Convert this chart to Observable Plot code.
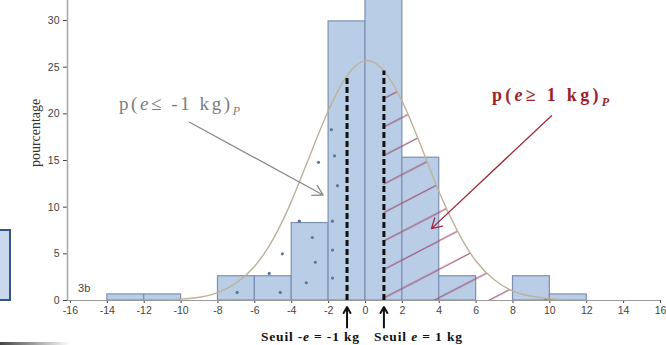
<!DOCTYPE html>
<html><head><meta charset="utf-8">
<script src="https://cdn.jsdelivr.net/npm/d3@7"></script>
<script src="https://cdn.jsdelivr.net/npm/@observablehq/plot@0.6"></script>
<style>
html,body{margin:0;padding:0;background:#fff;}
#wrap{position:relative;width:666px;height:345px;overflow:hidden;background:#fff;}
#wrap svg{position:absolute;left:0;top:0;}
#box{position:absolute;left:-4px;top:229px;width:11px;height:68px;border:2px solid #34558a;background:#c9d8ec;}
#shadow{position:absolute;left:0;top:342px;width:70px;height:3px;background:linear-gradient(to right,#444,rgba(140,140,140,0));}
</style></head><body>
<div id="wrap"><div id="box"></div><div id="shadow"></div></div>
<script>
// Histogram bins (width 2 kg), percentage per bin
const binStart = [-14, -12, -8, -6, -4, -2, 0, 2, 4, 8, 10];
const binPercent = [0.65, 0.65, 2.6, 2.6, 8.3, 29.9, 34, 15.3, 2.6, 2.6, 0.65];
const binWidth = 2;

// Fitted normal curve
const curveX = [-12,-11,-10,-9,-8,-7,-6,-5,-4,-3,-2,-1,0,1,2,3,4,5,6,7,8,9,10,11,12];
const curveY = [0.02,0.05,0.15,0.35,0.85,1.9,3.7,6.6,10.7,15.6,20.4,24.1,25.7,24.6,21.3,16.6,11.6,7.4,4.2,2.2,1.0,0.45,0.2,0.08,0.03];

// Thresholds
const thresholds = [-1, 1];

// Stipple dots in the left tail
const dotX = [-6.96,-4.62,-5.22,-4.51,-3.21,-2.72,-2.88,-3.59,-1.79,-1.79,-1.79,-1.52,-2.55,-1.85,-1.68];
const dotY = [0.86,0.86,2.9,5.0,1.9,4.1,6.75,8.5,2.4,5.4,8.5,12.3,14.8,18.3,15.5];

// Axis ticks
const xTicks = [-16,-14,-12,-10,-8,-6,-4,-2,0,2,4,6,8,10,12,14,16];
const yTicks = [0,5,10,15,20,25,30];

// Annotation arrows (data units)
const arrowX1 = [-9.54, 10.09];
const arrowY1 = [19.1, 19.8];
const arrowX2 = [-2.3, 3.58];
const arrowY2 = [11.3, 7.7];
const arrowColor = ["#8a8a8a", "#a3283a"];

const bars = binStart.map((x, i) => ({x1: x, x2: x + binWidth, y: binPercent[i]}));
const curve = curveX.map((x, i) => ({x, y: curveY[i]}));
const rightTail = curve.filter(d => d.x >= thresholds[1]);
const thresholdLines = thresholds.map(t => ({x: t, top: curve.find(d => d.x === t).y}));
const stipple = dotX.map((x, i) => ({x, y: dotY[i]}));
const notes = arrowX1.map((x1, i) => ({x1, y1: arrowY1[i], x2: arrowX2[i], y2: arrowY2[i], c: arrowColor[i]}));

const xMin = -16.16;

const chart = Plot.plot({
  width: 666, height: 345,
  marginLeft: 67, marginRight: 6, marginTop: 0, marginBottom: 45,
  style: {fontFamily: "'Liberation Sans', Arial, sans-serif", fontSize: "10.5px", color: "#444", background: "transparent", overflow: "visible"},
  x: {domain: [xMin, 16], ticks: xTicks, tickFormat: d => String(d), tickSize: 3, tickPadding: 3, label: null},
  y: {domain: [0, 32.14], ticks: yTicks, tickFormat: d => String(d), tickSize: 4, tickPadding: 4, label: null},
  marks: [
    Plot.rect(bars, {x1: "x1", x2: "x2", y1: 0, y2: "y", fill: "#b9cde6", stroke: "#7c90b3", strokeWidth: 1.2, clip: true}),
    Plot.areaY(rightTail, {x: "x", y: "y", curve: "natural", fill: "url(#hatch)"}),
    Plot.dot(stipple, {x: "x", y: "y", r: 1.6, fill: "#60779c"}),
    Plot.line(curve, {x: "x", y: "y", curve: "natural", stroke: "#bdb299", strokeWidth: 1.4}),
    Plot.ruleX(thresholdLines, {x: "x", y1: 0, y2: "top", stroke: "#111", strokeWidth: 3, strokeDasharray: "6,3"}),
    Plot.ruleY([0], {stroke: "#9a9a9a", strokeWidth: 1.2}),
    Plot.ruleX([xMin], {stroke: "#aaaaaa", strokeWidth: 1.6}),
    Plot.arrow(thresholds, {x1: d => d, x2: d => d, y1: -2.9, y2: -0.7, stroke: "#111", strokeWidth: 2, headLength: 8}),
    Plot.arrow(notes, {x1: "x1", y1: "y1", x2: "x2", y2: "y2", stroke: "c", strokeWidth: 1.3, headLength: 13})
  ]
});

const svg = d3.select(chart);
const defs = svg.insert("defs", ":first-child");
const W = 54.8, H = 28.5;
const pat = defs.append("pattern").attr("id", "hatch").attr("patternUnits", "userSpaceOnUse")
  .attr("x", 0).attr("y", 13.2).attr("width", W).attr("height", H);
[-H, 0, H].forEach(o => {
  pat.append("line").attr("x1", -0.1 * W).attr("y1", H + o + 0.1 * H).attr("x2", 1.1 * W).attr("y2", o - 0.1 * H)
    .attr("stroke", "#9c4f72").attr("stroke-width", 1.1).attr("stroke-opacity", 0.95);
});

const xs = chart.scale("x"), ys = chart.scale("y");
function rich(x, y, parts, attrs) {
  const t = svg.append("text").attr("x", xs.apply(x)).attr("y", ys.apply(y)).attr("text-anchor", "start");
  Object.entries(attrs).forEach(([k, v]) => t.attr(k, v));
  parts.forEach(p => {
    const s = t.append("tspan").text(p.t);
    if (p.i) s.attr("font-style", "italic");
    if (p.sub) s.attr("font-size", p.sub).attr("dy", p.dy);
  });
  return t;
}
const serif = "'Liberation Serif', 'Times New Roman', serif";
rich(-13.34, 20.4, [{t: "p("}, {t: "e", i: 1}, {t: "≤ -1 kg)"}, {t: "P", i: 1, sub: "12px", dy: 5}],
  {"font-family": serif, "font-size": 19, fill: "#7d7d7d", textLength: 121});
rich(6.89, 21.3, [{t: "p("}, {t: "e", i: 1}, {t: "≥ 1 kg)"}, {t: "P", i: 1, sub: "12px", dy: 5}],
  {"font-family": serif, "font-size": 18, "font-weight": "bold", fill: "#9e1e2a", textLength: 117});
rich(-5.64, -4.4, [{t: "Seuil -"}, {t: "e", i: 1}, {t: " = -1 kg"}],
  {"font-family": serif, "font-size": 13.5, "font-weight": "bold", fill: "#111", textLength: 98});
rich(0.49, -4.4, [{t: "Seuil "}, {t: "e", i: 1}, {t: " = 1 kg"}],
  {"font-family": serif, "font-size": 13.5, "font-weight": "bold", fill: "#111", textLength: 88});
rich(-15.56, 0.86, [{t: "3b"}], {"font-family": "'Liberation Sans', Arial, sans-serif", "font-size": 11, fill: "#444"});
svg.append("text").attr("transform", `translate(${xs.apply(-16.16) - 27},${ys.apply(17.9)}) rotate(-90)`)
  .attr("text-anchor", "middle").attr("font-family", serif).attr("font-size", 14).attr("fill", "#333")
  .text("pourcentage");

document.getElementById("wrap").appendChild(chart);
</script>
</body></html>
